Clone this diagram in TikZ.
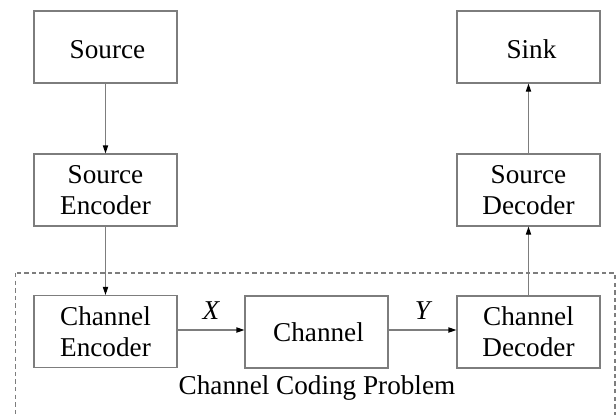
\documentclass[tikz,border=0pt]{standalone}
\usepackage{fontspec}
\setmainfont{Liberation Serif}
\usetikzlibrary{arrows.meta}
\definecolor{linegray}{RGB}{125,125,125}
\begin{document}
\begin{tikzpicture}[x=0.5pt,y=-0.5pt,
  block/.style={draw=linegray,line width=0.55pt,minimum width=71.5pt,minimum height=36pt,
    inner sep=0pt,align=center,font=\fontsize{13.6}{15.6}\selectfont},
  lowtext/.style={text height=12pt},
  link/.style={draw=linegray,line width=0.55pt,-{Triangle[length=4pt,width=2.6pt,color=black]}},
  lbl/.style={font=\fontsize{13.6}{15.6}\selectfont\itshape,inner sep=0pt}]
  \useasboundingbox (0,0) rectangle (616,414);
  % dashed frame around the channel coding part (runs off the bottom)
  \begin{scope}
    \clip (0,0) rectangle (616,414);
    \draw[linegray,line width=0.55pt,dash pattern=on 2.2pt off 1.6pt] (15.5,273) rectangle (615,440);
  \end{scope}
  % blocks
  \node[block,lowtext] (src)  at (105.5,47)  {\hspace*{2pt}Source};
  \node[block] (senc) at (105.5,190) {Source\\Encoder};
  \node[block] (cenc) at (105.5,331.5) {Channel\\Encoder};
  \node[block] (chan) at (316.5,332) {\hspace*{2pt}Channel};
  \node[block] (cdec) at (528.5,332) {Channel\\Decoder};
  \node[block] (sdec) at (528.5,190) {Source\\Decoder};
  \node[block,lowtext] (sink) at (528.5,47)  {\hspace*{3pt}Sink};
  \node[font=\fontsize{13.6}{15.6}\selectfont,inner sep=0pt] (title) at (317,388) {Channel Coding Problem};
  % connectors
  \draw[link] (src) -- (senc);
  \draw[link] (senc) -- (cenc);
  \draw[link] (cenc.east |- 0,330) -- node[lbl,above=5pt] {X} (chan.west |- 0,330);
  \draw[link] (chan.east |- 0,330) -- node[lbl,above=5pt] {Y} (cdec.west |- 0,330);
  \draw[link] (cdec) -- (sdec);
  \draw[link] (sdec) -- (sink);
\end{tikzpicture}
\end{document}
